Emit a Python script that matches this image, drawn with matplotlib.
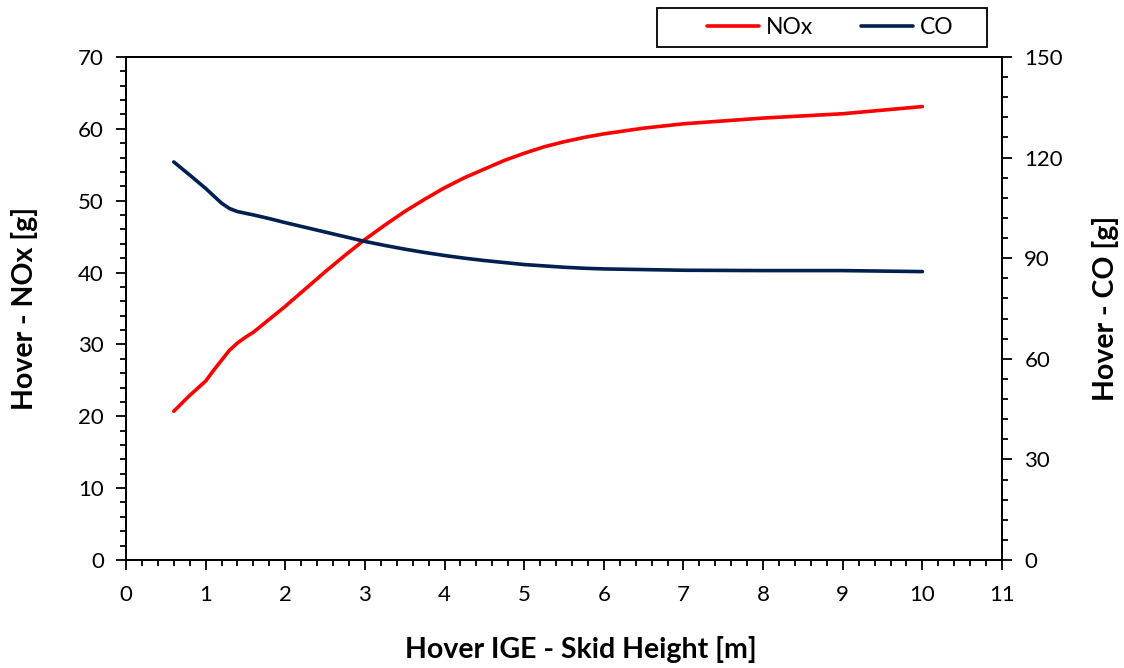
import matplotlib.pyplot as plt
from matplotlib.patches import Rectangle
from matplotlib.ticker import MultipleLocator

plt.rcParams["font.family"] = ["Lato", "DejaVu Sans"]

# skid height [m]
height = [0.6, 0.8, 1.0, 1.1, 1.2, 1.3, 1.4, 1.5, 1.6, 1.8, 2.0, 2.25, 2.5, 2.75, 3.0,
          3.25, 3.5, 3.75, 4.0, 4.25, 4.5, 4.75, 5.0, 5.25, 5.5, 5.75, 6.0, 6.5,
          7.0, 8.0, 9.0, 10.0]
nox = [20.7, 22.9, 24.9, 26.4, 27.8, 29.2, 30.2, 31.0, 31.7, 33.5, 35.3, 37.7, 40.1, 42.4, 44.6,
       46.6, 48.5, 50.2, 51.8, 53.2, 54.4, 55.6, 56.6, 57.5, 58.2, 58.8, 59.3, 60.1,
       60.7, 61.5, 62.1, 63.1]
co = [118.7, 114.8, 110.8, 108.6, 106.4, 104.8, 103.9, 103.4, 102.9, 101.8, 100.6, 99.2, 97.8, 96.4, 95.0,
      93.8, 92.7, 91.7, 90.8, 90.0, 89.3, 88.7, 88.1, 87.7, 87.3, 87.0, 86.8, 86.6,
      86.4, 86.3, 86.3, 86.0]

RED = "#FF0000"
NAVY = "#002050"
W, H = 1124, 668

fig = plt.figure(figsize=(W / 100, H / 100), dpi=100)
ax = fig.add_axes([0.1121, 0.1617, 0.7794, 0.753])
ax2 = ax.twinx()

l1, = ax.plot(height, nox, color=RED, lw=2.6, solid_capstyle="round", solid_joinstyle="round")
l2, = ax2.plot(height, co, color=NAVY, lw=2.6, solid_capstyle="round", solid_joinstyle="round")

ax.set_xlim(0, 11)
ax.set_ylim(0, 70)
ax2.set_ylim(0, 150)
ax.xaxis.set_major_locator(MultipleLocator(1))
ax.xaxis.set_minor_locator(MultipleLocator(0.2))
ax.yaxis.set_major_locator(MultipleLocator(10))
ax.yaxis.set_minor_locator(MultipleLocator(2))
ax2.yaxis.set_major_locator(MultipleLocator(30))
ax2.yaxis.set_minor_locator(MultipleLocator(6))

for a in (ax, ax2):
    a.tick_params(which="major", direction="out", length=7, width=1.3, labelsize=16, pad=9)
    a.tick_params(which="minor", direction="out", length=4, width=1.3)
    for s in a.spines.values():
        s.set_linewidth(1.3)
ax.tick_params(axis="x", pad=11)

ax.set_xlabel("Hover IGE - Skid Height [m]", fontsize=20.5, fontweight="bold", labelpad=22)
ax.xaxis.label.set_x(0.519)
ax.set_ylabel("Hover - NOx [g]", fontsize=20.5, fontweight="bold", labelpad=29)
ax2.set_ylabel("Hover - CO [g]", fontsize=20.5, fontweight="bold", labelpad=21)

# legend box drawn separately (Excel style: wide left padding)
fig.add_artist(Rectangle((657 / W, 1 - 47 / H), 330 / W, 39 / H, transform=fig.transFigure,
                         facecolor="white", edgecolor="black", lw=1.3))
fig.legend([l1, l2], ["NOx", "CO"], loc="center left",
           bbox_to_anchor=(707 / W, 1 - 28 / H), ncol=2, fontsize=16.5,
           frameon=False, borderaxespad=0, borderpad=0,
           handlelength=2.27, columnspacing=2.1, handletextpad=0.3)

fig.savefig("out.png", dpi=100)
